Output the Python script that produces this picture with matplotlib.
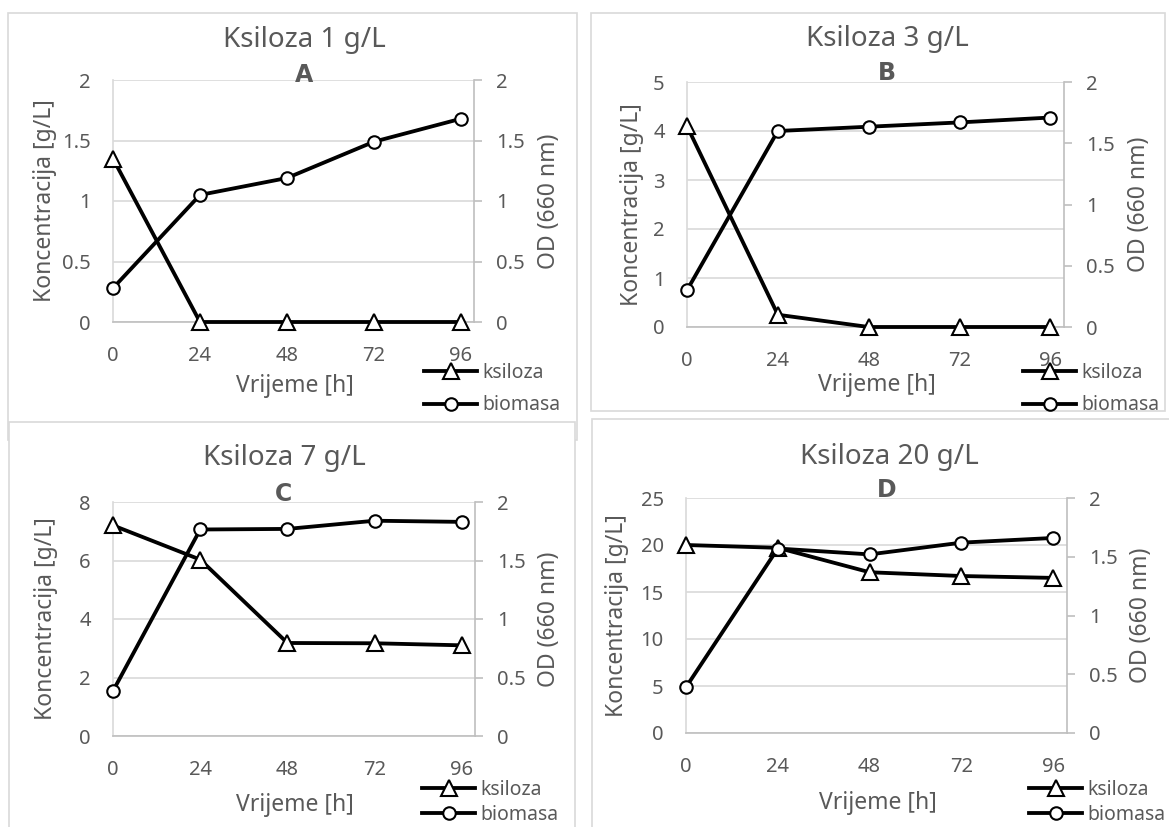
import matplotlib.pyplot as plt
from matplotlib.lines import Line2D
from matplotlib.patches import Rectangle

# sampling times (h)
hours = [0, 24, 48, 72, 96]
hour_labels = ['0', '24', '48', '72', '96']

# xylose concentration (g/L) and biomass OD660, one pair per panel
xyl_1 = [1.35, 0, 0, 0, 0]
bio_1 = [0.28, 1.05, 1.19, 1.49, 1.68]
xyl_3 = [4.1, 0.25, 0, 0, 0]
bio_3 = [0.30, 1.60, 1.635, 1.67, 1.71]
xyl_7 = [7.2, 6.03, 3.18, 3.17, 3.1]
bio_7 = [0.385, 1.765, 1.77, 1.84, 1.83]
xyl_20 = [20.0, 19.7, 17.1, 16.7, 16.5]
bio_20 = [0.39, 1.57, 1.52, 1.62, 1.66]

titles = ['Ksiloza 1 g/L', 'Ksiloza 3 g/L', 'Ksiloza 7 g/L', 'Ksiloza 20 g/L']
letters = ['A', 'B', 'C', 'D']
left_max = [2, 5, 8, 25]
left_step = [0.5, 1, 2, 5]
od_ticks = [0, 0.5, 1, 1.5, 2]
xyl_all = [xyl_1, xyl_3, xyl_7, xyl_20]
bio_all = [bio_1, bio_3, bio_7, bio_20]

W, H = 1169, 827
TXT = '#595959'
GRID = '#d9d9d9'
AXC = '#bfbfbf'

plt.rcParams['font.family'] = ['Noto Sans', 'DejaVu Sans']

fig = plt.figure(figsize=(W / 100, H / 100), dpi=100)


def fx(x):
    return x / W


def fy(y):
    return 1 - y / H


# light frames around each chart, like the Excel chart areas
frames = [(8, 13, 577, 440), (591, 13, 1165, 411), (9, 422, 575, 840), (592, 419, 1180, 840)]
for l, t, r, b in frames:
    fig.add_artist(Rectangle((fx(l), fy(b)), fx(r - l), (b - t) / H, transform=fig.transFigure,
                             fill=True, facecolor='white', edgecolor=GRID, lw=1.2, zorder=-5))

# pixel layout of each panel
plots = [(113, 80, 474, 322), (687, 82, 1064, 327), (113, 502, 475, 736), (686, 498, 1067, 733)]
title_pos = [(304, 47), (887, 46), (284, 465), (889, 464)]
letter_pos = [(304, 82), (887, 80), (283, 501), (887, 497)]
ylab_x = [45, 632, 46, 617]
odlab_x = [549, 1139, 549, 1141]
xlab_y = [386, 385, 805, 803]
legend_pos = [(424, 373, 405), (1023, 373, 405), (422, 790, 815), (1029, 790, 815)]

for i in range(4):
    l, t, r, b = plots[i]
    ax = fig.add_axes([fx(l), fy(b), (r - l) / W, (b - t) / H])
    ax2 = ax.twinx()

    ax.plot(hours, xyl_all[i], color='black', lw=2.75, marker='^', ms=11,
            mfc='white', mec='black', mew=1.5, clip_on=False, zorder=3)
    ax2.plot(hours, bio_all[i], color='black', lw=2.75, marker='o', ms=9,
             mfc='white', mec='black', mew=1.5, clip_on=False, zorder=3)

    ax.set_xlim(0, 99.6)
    ax.set_ylim(0, left_max[i])
    ax2.set_ylim(0, 2)
    yt = [k * left_step[i] for k in range(int(round(left_max[i] / left_step[i])) + 1)]
    ax.set_yticks(yt)
    ax.set_yticklabels(['%g' % v for v in yt])
    ax2.set_yticks(od_ticks)
    ax2.set_yticklabels(['%g' % v for v in od_ticks])
    ax.set_xticks(hours)
    ax.set_xticklabels(hour_labels)

    ax.grid(axis='y', color=GRID, lw=1.2)
    ax.set_axisbelow(True)
    for s in ['top', 'right']:
        ax.spines[s].set_visible(False)
    ax.spines['left'].set_color(GRID)
    ax.spines['left'].set_linewidth(1.2)
    ax.spines['bottom'].set_color(AXC)
    ax.spines['bottom'].set_linewidth(1.2)
    for s in ['top', 'left', 'bottom']:
        ax2.spines[s].set_visible(False)
    ax2.spines['right'].set_color(AXC)
    ax2.spines['right'].set_linewidth(1.2)

    ax.tick_params(axis='y', length=0, pad=16, labelsize=14.5, labelcolor=TXT)
    ax.tick_params(axis='x', length=0, pad=17.5, labelsize=14.5, labelcolor=TXT)
    ax2.tick_params(axis='y', length=6, width=1.2, color=AXC, pad=10, labelsize=14.5, labelcolor=TXT)

    fig.text(fx(title_pos[i][0]), fy(title_pos[i][1]), titles[i], ha='center', va='baseline',
             fontsize=20, color=TXT)
    fig.text(fx(letter_pos[i][0]), fy(letter_pos[i][1]), letters[i], ha='center', va='baseline',
             fontsize=17, fontweight='bold', family='DejaVu Sans', color=TXT, zorder=10)
    fig.text(fx(ylab_x[i]), fy((t + b) / 2), 'Koncentracija [g/L]', rotation=90, ha='center',
             va='center', fontsize=16.5, color=TXT)
    fig.text(fx(odlab_x[i]), fy((t + b) / 2), 'OD (660 nm)', rotation=90, ha='center',
             va='center', fontsize=16.5, color=TXT)
    fig.text(fx((l + r) / 2 + 1), fy(xlab_y[i]), 'Vrijeme [h]', ha='center', va='center',
             fontsize=16.5, color=TXT)

    h1 = Line2D([], [], color='black', lw=2.75, marker='^', ms=11, mfc='white', mec='black', mew=1.5)
    h2 = Line2D([], [], color='black', lw=2.75, marker='o', ms=9, mfc='white', mec='black', mew=1.5)
    lx, r1, r2 = legend_pos[i]
    fig.legend([h1, h2], ['ksiloza', 'biomasa'], loc='center left',
               bbox_to_anchor=(fx(lx), fy((r1 + r2) / 2)), frameon=False, fontsize=14,
               labelcolor=TXT, borderpad=0, borderaxespad=0, handlelength=2.73,
               handletextpad=0.26, labelspacing=0.65 if i < 2 else 0.25)

fig.savefig('out.png', dpi=100)
